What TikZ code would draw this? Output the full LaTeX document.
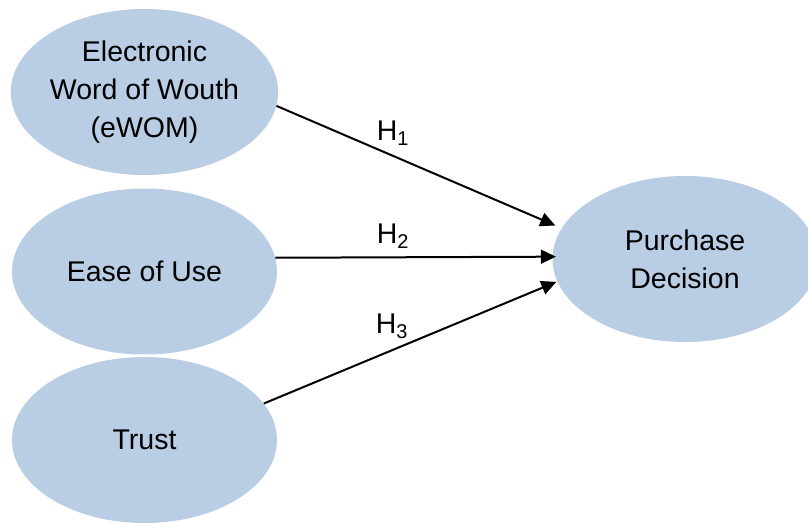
\documentclass[tikz,border=0pt]{standalone}
\usepackage{fontspec}
\setmainfont{Liberation Sans}
\usetikzlibrary{arrows.meta,shapes.geometric}
\definecolor{ovalblue}{HTML}{B9CDE5}
\begin{document}
\begin{tikzpicture}[x=1pt,y=-1pt,
  oval/.style={ellipse,fill=ovalblue,draw=none,minimum width=265pt,minimum height=166pt,inner sep=0pt,align=center,font=\fontsize{28.5}{38}\selectfont},
  hyp/.style={anchor=base,font=\fontsize{28.5}{38}\selectfont,inner sep=0pt},
  link/.style={line width=2pt,-{Triangle[length=15pt,width=14pt]}}]
\useasboundingbox (0,0) rectangle (808,522);
\node[oval] (e1) at (144.5,92) {Electronic\\Word of Wouth\\(eWOM)};
\node[oval] (e2) at (144.5,271.5) {Ease of Use};
\node[oval] (e3) at (144.5,440) {Trust};
\node[oval] (pd) at (685,259) {Purchase\\Decision};
\draw[link,shorten >=7pt] (e1.354.4) -- (pd.166.1);
\draw[link,shorten >=-3.5pt] (e2.6.4) -- (pd.179.7);
\draw[link,shorten >=1pt] (e3.17.2) -- (pd.190.1);
\node[hyp] (h1) at (393,140) {H\textsubscript{1}};
\node[hyp] (h2) at (393,243) {H\textsubscript{2}};
\node[hyp] (h3) at (392,333) {H\textsubscript{3}};
\end{tikzpicture}
\end{document}
